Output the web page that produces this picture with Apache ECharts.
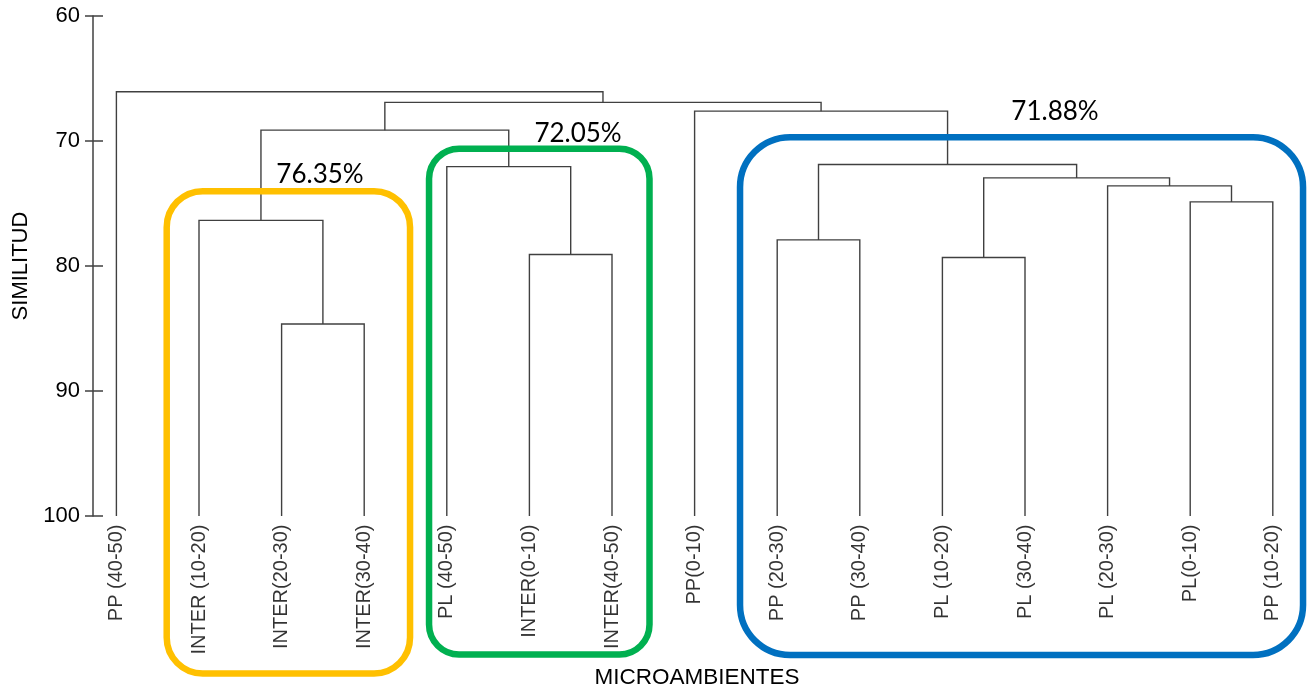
<!DOCTYPE html>
<html>
<head>
<meta charset="utf-8">
<script src="https://cdn.jsdelivr.net/npm/echarts@6/dist/echarts.min.js"></script>
<style>
html,body{margin:0;padding:0;background:#fff;}
#chart{width:1307px;height:689px;}
</style>
</head>
<body>
<div id="chart"></div>
<script>
// ---- data ----
const leafLabels = [
  'PP (40-50)', 'INTER (10-20)', 'INTER(20-30)', 'INTER(30-40)',
  'PL (40-50)', 'INTER(0-10)', 'INTER(40-50)', 'PP(0-10)',
  'PP (20-30)', 'PP (30-40)', 'PL (10-20)', 'PL (30-40)',
  'PL (20-30)', 'PL(0-10)', 'PP (10-20)'
];
// merges: node ids 0..14 are leaves, merge k creates node 15+k
const mergeLeft   = [2, 1, 5, 4, 16, 13, 12, 10, 22, 8, 24, 7, 19, 0];
const mergeRight  = [3, 15, 6, 17, 18, 14, 20, 11, 21, 9, 23, 25, 26, 27];
const mergeHeight = [84.64, 76.35, 79.08, 72.05, 69.13, 74.87, 73.59, 79.32, 72.95, 77.91, 71.88, 67.61, 66.91, 66.06];
const yTicks = [60, 70, 80, 90, 100];
const clusterNotes = ['76.35%', '72.05%', '71.88%'];

// ---- annotation layout (data units) ----
const boxes = [
  {x0: 0.609, x1: 3.555, y0: 74.01, y1: 112.6, color: '#FFC000', r: 36},
  {x0: 3.785, x1: 6.454, y0: 70.62, y1: 111.08, color: '#00B050', r: 30},
  {x0: 7.55,  x1: 14.366, y0: 69.69, y1: 111.12, color: '#0070C0', r: 50}
];
const notePos = [[2.465, 72.71], [5.589, 69.37], [11.363, 67.61]];

// ---- build dendrogram segments ----
const nodeX = leafLabels.map((_, i) => i);
const nodeH = leafLabels.map(() => 100);
const segs = [];
for (let k = 0; k < mergeLeft.length; k++) {
  const a = mergeLeft[k], b = mergeRight[k], H = mergeHeight[k];
  segs.push({coords: [[nodeX[a], nodeH[a]], [nodeX[a], H], [nodeX[b], H], [nodeX[b], nodeH[b]]]});
  nodeX.push((nodeX[a] + nodeX[b]) / 2);
  nodeH.push(H);
}

const chart = echarts.init(document.getElementById('chart'));
const lineColor = '#404040';
const option = {
  animation: false,
  backgroundColor: '#ffffff',
  grid: {left: 93, right: 0, top: 16, bottom: 173, containLabel: false, outerBoundsMode: 'none'},
  xAxis: {type: 'value', min: -0.2833, max: 14.414, show: false},
  yAxis: [
    {
      type: 'value', min: 60, max: 100, interval: 10, inverse: true, position: 'left', offset: 0,
      name: 'SIMILITUD', nameLocation: 'middle', nameGap: 60, nameRotate: 90,
      nameTextStyle: {fontFamily: 'Liberation Sans', fontSize: 22, color: '#000'},
      axisLine: {show: true, onZero: false, lineStyle: {color: lineColor, width: 1.5}},
      axisTick: {show: true, inside: false, length: 8, lineStyle: {color: lineColor, width: 1.5}},
      axisLabel: {show: true, margin: 13, fontFamily: 'Liberation Sans', fontSize: 22, color: '#000',
                  formatter: v => yTicks.includes(v) ? String(v) : ''},
      splitLine: {show: false}
    },
    {
      type: 'value', min: 60, max: 100, interval: 10, inverse: true, position: 'left', offset: -10,
      axisLine: {show: false, onZero: false},
      axisTick: {show: true, inside: false, length: 18, lineStyle: {color: lineColor, width: 1.5}},
      axisLabel: {show: false},
      splitLine: {show: false}
    }
  ],
  series: [
    {
      type: 'lines', coordinateSystem: 'cartesian2d', polyline: true,
      xAxisIndex: 0, yAxisIndex: 0,
      lineStyle: {color: lineColor, width: 1.4, opacity: 1},
      data: segs, silent: true
    },
    {
      type: 'scatter', xAxisIndex: 0, yAxisIndex: 0,
      symbol: 'circle', symbolSize: 1, itemStyle: {color: 'rgba(0,0,0,0)'},
      data: leafLabels.map((n, i) => ({value: [i, 100], name: n})),
      label: {
        show: true, position: 'bottom', distance: 8, rotate: 90,
        align: 'right', verticalAlign: 'middle',
        formatter: p => p.name,
        fontFamily: 'Liberation Sans', fontSize: 20, color: '#000'
      },
      labelLayout: {hideOverlap: false},
      silent: true
    },
    {
      type: 'scatter', xAxisIndex: 0, yAxisIndex: 1, symbolSize: 0, silent: true, data: []
    }
  ]
};
chart.setOption(option);

// annotations placed through the axes
const px = (x, y) => chart.convertToPixel({xAxisIndex: 0, yAxisIndex: 0}, [x, y]);
const graphics = [];
boxes.forEach(b => {
  const p0 = px(b.x0, b.y0), p1 = px(b.x1, b.y1);
  graphics.push({
    type: 'rect', z: 10,
    shape: {x: p0[0], y: p0[1], width: p1[0] - p0[0], height: p1[1] - p0[1], r: b.r},
    style: {fill: 'none', stroke: b.color, lineWidth: 6.5}
  });
});
clusterNotes.forEach((t, i) => {
  const p = px(notePos[i][0], notePos[i][1]);
  graphics.push({
    type: 'text', z: 11, x: p[0], y: p[1],
    style: {text: t, fontFamily: 'Lato', fontSize: 26, fill: '#000', align: 'center', verticalAlign: 'middle'}
  });
});
graphics.push({
  type: 'text', z: 11, x: 697, y: 678,
  style: {text: 'MICROAMBIENTES', fontFamily: 'Liberation Sans', fontSize: 22.5, fill: '#000', align: 'center', verticalAlign: 'middle'}
});
chart.setOption({graphic: graphics});
</script>
</body>
</html>
